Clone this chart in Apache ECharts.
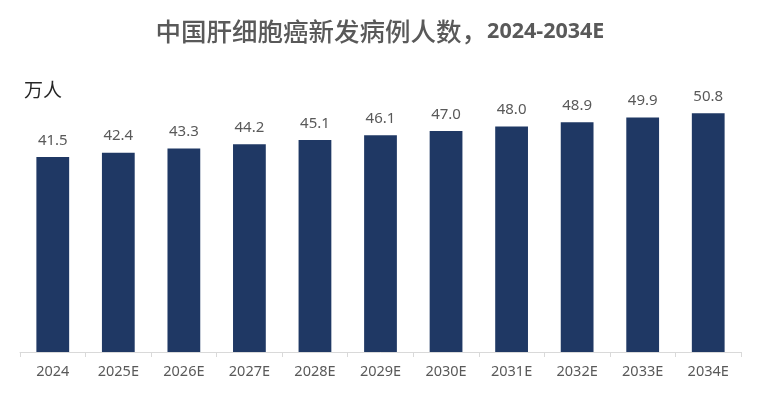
<!DOCTYPE html>
<html><head><meta charset="utf-8">
<script src="https://cdn.jsdelivr.net/npm/echarts@6/dist/echarts.min.js"></script>
<style>html,body{margin:0;padding:0;background:#fff}#c{width:760px;height:394px}</style>
</head><body><div id="c"></div>
<script>
const categories = ['2024','2025E','2026E','2027E','2028E','2029E','2030E','2031E','2032E','2033E','2034E'];
const values = [41.5, 42.4, 43.3, 44.2, 45.1, 46.1, 47.0, 48.0, 48.9, 49.9, 50.8];
const titleZh = '中国肝细胞癌新发病例人数，';
const titleRange = '2024-2034E';
const unitText = '万人';

const chart = echarts.init(document.getElementById('c'), null, {renderer:'canvas'});
chart.setOption({
  animation: false,
  backgroundColor: '#ffffff',
  title: [{
    text: '{a|' + titleZh + '}{b|' + titleRange + '}', left: 'center', top: 14,
    textStyle: {
      rich: {
        a: {fontFamily: '"Noto Sans CJK SC", sans-serif', fontSize: 25.5, fontWeight: 500, color: '#595959'},
        b: {fontFamily: '"Noto Sans", "Liberation Sans", sans-serif', fontSize: 21.5, fontWeight: 'bold', color: '#595959'}
      }
    }
  }, {
    text: unitText, left: 19, top: 75,
    textStyle: {fontFamily: '"Noto Sans CJK SC", sans-serif', fontSize: 19, fontWeight: 'normal', color: '#262626'}
  }],
  grid: {left: 20, right: 19, top: 70, bottom: 42, containLabel: false},
  xAxis: {
    type: 'category', data: categories, boundaryGap: true,
    axisLine: {lineStyle: {color: '#d9d9d9', width: 1}},
    axisTick: {show: true, length: 5, lineStyle: {color: '#d9d9d9'}},
    axisLabel: {color: '#595959', fontSize: 14.5, fontFamily: '"Noto Sans", sans-serif', margin: 12}
  },
  yAxis: {
    type: 'value', min: 0, max: 60, show: false,
    splitLine: {show: false}
  },
  series: [{
    type: 'bar', data: values, barWidth: '50%',
    itemStyle: {color: '#1f3864'},
    label: {show: true, position: 'top', distance: 9, color: '#595959', fontSize: 15,
      fontFamily: '"Noto Sans", sans-serif', formatter: p => p.value.toFixed(1)}
  }]
});
</script></body></html>
